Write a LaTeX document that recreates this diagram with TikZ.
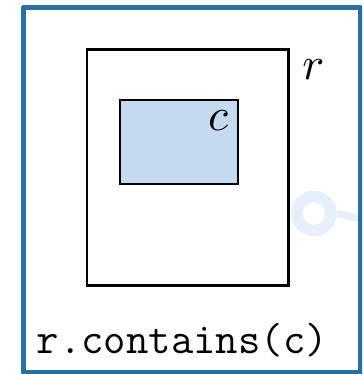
\documentclass[tikz,border=0pt]{standalone}
\usepackage{xcolor}
\definecolor{frameblue}{RGB}{41,111,166}
\definecolor{cfill}{RGB}{197,217,240}
\definecolor{faint}{RGB}{230,240,250}
\begin{document}
\begin{tikzpicture}[x=1pt,y=-1pt,
  box/.style={draw=black, line width=2.7pt, inner sep=0pt, outer sep=0pt},
  mathlbl/.style={inner sep=0pt, scale=4.6},
  codelbl/.style={inner sep=0pt, font=\fontsize{43.5}{50}\selectfont\ttfamily}]
\useasboundingbox (0,0) rectangle (362,374);
\clip (0,0) rectangle (362,374);
% faint background ring
\node[circle, draw=faint, line width=11.5pt, minimum size=34pt, inner sep=0pt] (ring) at (314,213.5) {};
\coordinate (ringend) at (364,219.5);
\draw[faint, line width=7.5pt] (ring.east) -- (ringend);
% frame
\node[draw=frameblue, line width=5pt, line join=round, minimum width=337pt, minimum height=364.5pt, inner sep=0pt] (frame) at (192,189.75) {};
% rectangles
\node[box, minimum width=201.7pt, minimum height=236pt] (r) at (187.85,167.5) {};
\node[box, fill=cfill, minimum width=118pt, minimum height=84pt] (c) at (179,142) {};
% labels
\node[mathlbl] (rlabel) at (313.5,70) {$r$};
\node[mathlbl] (clabel) at (218,120.5) {$c$};
\node[codelbl, anchor=base west] (code) at (36.5,353.5) {r.contains(c)};
\end{tikzpicture}
\end{document}
